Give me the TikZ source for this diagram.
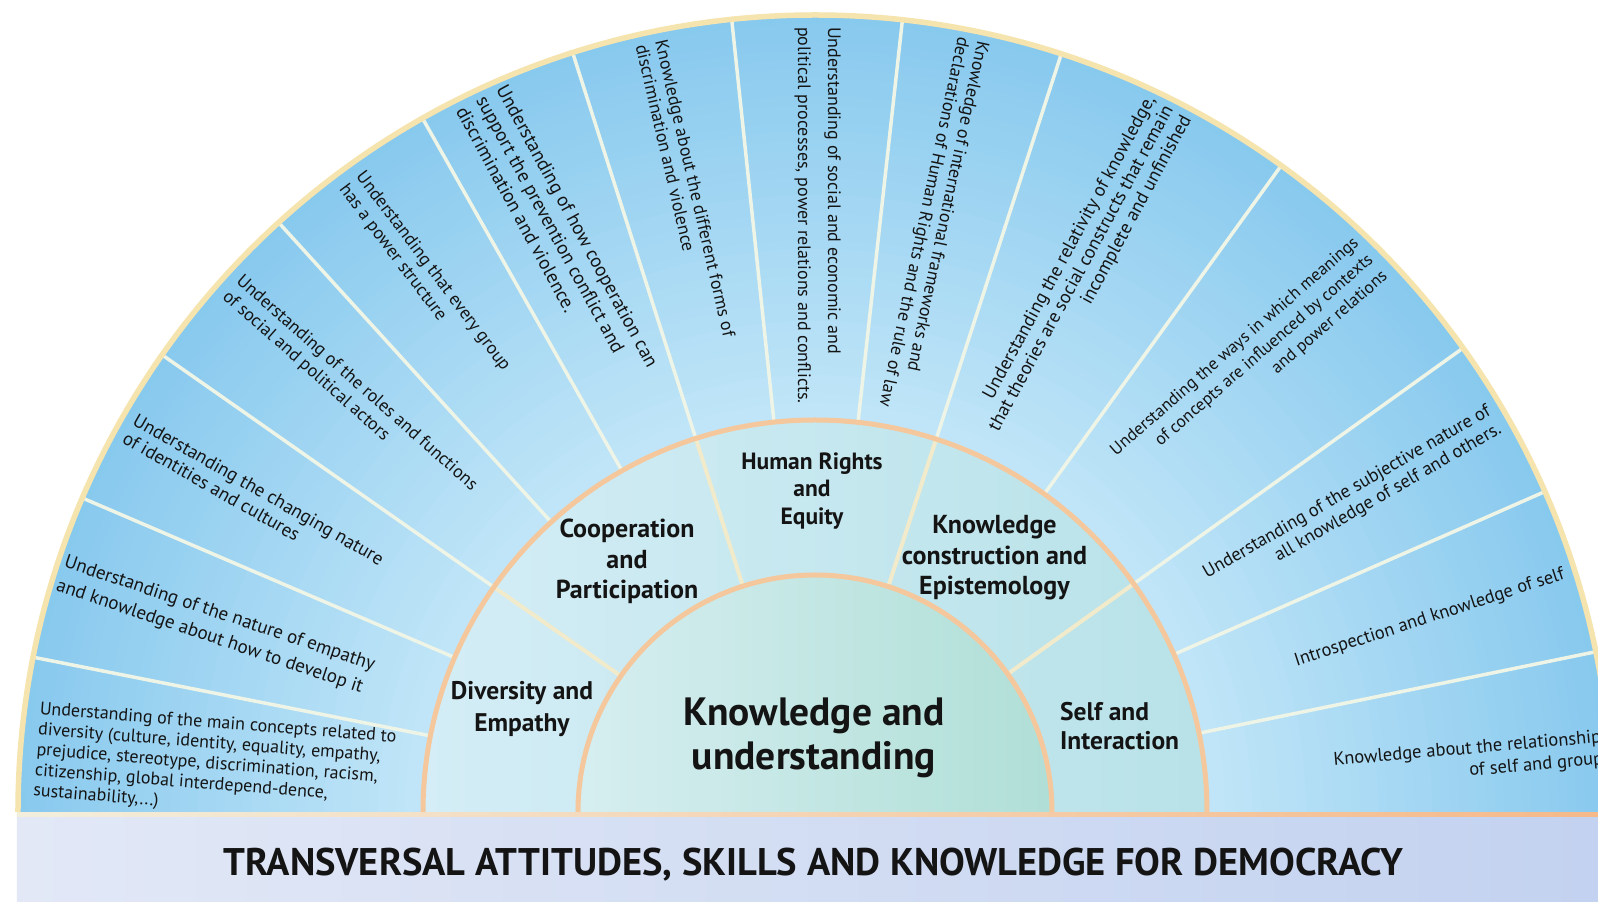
\documentclass[tikz,border=0pt]{standalone}
\usepackage{fontspec}
\setmainfont{PT Sans}
\newfontfamily\itemfam{PT Sans}
\newfontfamily\boldfam{PT Sans Bold}
\definecolor{outerIn}{HTML}{C2E6F8}
\definecolor{outerOut}{HTML}{88C9EE}
\definecolor{midL}{HTML}{D4EDF6}
\definecolor{midR}{HTML}{B8E2E8}
\definecolor{inL}{HTML}{D6EEF0}
\definecolor{inR}{HTML}{B0DFD7}
\definecolor{bandL}{HTML}{E2E8F6}
\definecolor{bandR}{HTML}{C3D2F0}
\definecolor{baseL}{HTML}{F3EEDC}
\definecolor{baseR}{HTML}{F5B98A}
\definecolor{ringc}{HTML}{F4C89C}
\definecolor{mdiv}{HTML}{F2EBCB}
\definecolor{odiv}{HTML}{EEF4E6}
\definecolor{borderc}{HTML}{F5E4AE}
\definecolor{txt}{HTML}{141414}
\tikzset{
  itemL/.style={font=\fontsize{18}{21}\selectfont\itemfam, align=left, anchor=west, inner sep=0pt, text=txt},
  itemR/.style={font=\fontsize{18}{21}\selectfont\itemfam, align=right, anchor=east, inner sep=0pt, text=txt},
  lbl/.style={font=\fontsize{26}{31}\selectfont\boldfam, align=center, inner sep=0pt, text=txt},
  odivline/.style={draw=odiv, line width=3.5pt},
  mdivline/.style={draw=mdiv, line width=4pt},
  ringline/.style={draw=ringc, line width=5pt},
}
\begin{document}
\begin{tikzpicture}[x=1pt,y=1pt]
\useasboundingbox (-815,-90) rectangle (783,812);
\fill[white] (-815,-90) rectangle (783,812);
% bottom band
\shade[left color=bandL, right color=bandR] (-798,-90) rectangle (783,-2);
\shade[left color=baseL, right color=baseR] (-798,-5) rectangle (783,1);
% outer ring, radial gradient in steps
\foreach \i in {0,...,45} {
  \pgfmathsetmacro\rr{797-\i*9}
  \pgfmathsetmacro\pp{100-\i*100/45}
  \fill[outerOut!\pp!outerIn] (-\rr,0) arc[start angle=180, end angle=0, radius=\rr] -- cycle;
}
% outer dividers
\foreach \a in {168.8,156.8,132.3,119.5,96,83.7,54.2,23.7,11.6}
  \draw[odivline] (\a:392) -- (\a:795);
\foreach \a in {145,107.7,72,35.6}
  \draw[odivline] (\a:392) -- (\a:795);
% middle ring
\shade[left color=midL, right color=midR] (-392,0) arc[start angle=180, end angle=0, radius=392] -- cycle;
\foreach \a in {145,107.7,72,35.6}
  \draw[mdivline] (\a:237) -- (\a:392);
% inner disk
\shade[left color=inL, right color=inR] (-237,0) arc[start angle=180, end angle=0, radius=237] -- cycle;
\draw[ringline] (-392,0) arc[start angle=180, end angle=0, radius=392];
\draw[ringline] (-237,0) arc[start angle=180, end angle=0, radius=237];
% outer border
\draw[draw=borderc, line width=5.5pt] (-797,0) arc[start angle=180, end angle=0, radius=797];

% outer items (left side, reading inward)
\node[itemL, font=\fontsize{18}{20.5}\selectfont\itemfam, rotate=-4.5] (i1) at (175.5:781)
  {Understanding of the main concepts related to\\diversity (culture, identity, equality, empathy,\\prejudice, stereotype, discrimination, racism,\\citizenship, global interdepend-dence,\\sustainability,...)};
\node[itemL, font=\fontsize{19}{25}\selectfont\itemfam, rotate=-18.5] (i2) at (162.5:791)
  {Understanding of the nature of empathy\\and knowledge about how to develop it};
\node[itemL, font=\fontsize{18.8}{21}\selectfont\itemfam, rotate=-29.8] (i3) at (150.7:786)
  {Understanding the changing nature\\of identities and cultures};
\node[itemL, rotate=-41.5] (i4) at (138:785)
  {Understanding of the roles and functions\\of social and political actors};
\node[itemL, rotate=-53] (i5) at (126.3:784)
  {Understanding that every group\\has a power structure};
\node[itemL, font=\fontsize{19.2}{23}\selectfont\itemfam, rotate=-61.5] (i6) at (115:789)
  {Understanding of how cooperation can\\support the prevention conflict and\\discrimination and violence.};
\node[itemL, font=\fontsize{18}{20}\selectfont\itemfam, rotate=-77] (i7) at (102:787)
  {Knowledge about the different forms of\\discrimination and violence};
\node[itemL, font=\fontsize{18}{30}\selectfont\itemfam, rotate=-90] (i8) at (89.8:785)
  {Understanding of social and economic and\\political processes, power relations and conflicts.};
\node[itemL, font=\fontsize{18}{20}\selectfont\itemfam, rotate=-102] (i9) at (78.5:789)
  {Knowledge of international frameworks and\\declarations of Human Rights and the rule of law};
% right side, reading outward
\node[itemR, font=\fontsize{18.7}{20.5}\selectfont\itemfam, rotate=61.5] (i10) at (63.3:789)
  {Understanding the relativity of knowledge,\\that theories are social constructs that remain\\incomplete and unfinished};
\node[itemR, font=\fontsize{17.3}{22}\selectfont\itemfam, rotate=41] (i11) at (44.9:785)
  {Understanding the ways in which meanings\\of concepts are influenced by contexts\\and power relations};
\node[itemR, font=\fontsize{18.5}{21}\selectfont\itemfam, rotate=30] (i12) at (30:785)
  {Understanding of the subjective nature of\\all knowledge of self and others.};
\node[itemR, font=\fontsize{18.4}{21}\selectfont\itemfam, rotate=18] (i13) at (17.6:786)
  {Introspection and knowledge of self};
\node[itemR, font=\fontsize{18.5}{22}\selectfont\itemfam, rotate=5] (i14) at (4.6:790)
  {Knowledge about the relationship\\of self and group};

% middle ring labels
\node[lbl, font=\fontsize{23.5}{27.5}\selectfont\boldfam] (hr) at (-3,321) {Human Rights\\and\\Equity};
\node[lbl, font=\fontsize{26}{30.5}\selectfont\boldfam] (coop) at (-188,250.5) {Cooperation\\and\\Participation};
\node[lbl, font=\fontsize{26}{30.5}\selectfont\boldfam] (kc) at (179.5,254) {Knowledge\\construction and\\Epistemology};
\node[lbl, font=\fontsize{25.5}{32}\selectfont\boldfam] (div) at (-293,103) {Diversity and\\Empathy};
\node[lbl, font=\fontsize{25.5}{29}\selectfont\boldfam, align=left, anchor=west] (self) at (245,86) {Self and\\Interaction};
% centre
\node[lbl, font=\fontsize{39.5}{44}\selectfont\boldfam] (ku) at (-1,74) {Knowledge and\\understanding};
% title
\node[lbl, font=\fontsize{38.5}{44}\selectfont\boldfam] (title) at (-2,-53) {TRANSVERSAL ATTITUDES, SKILLS AND KNOWLEDGE FOR DEMOCRACY};
\end{tikzpicture}
\end{document}
